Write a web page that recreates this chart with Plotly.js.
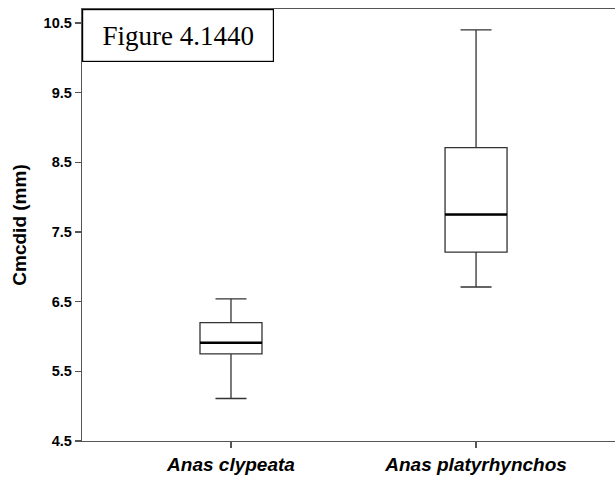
<!DOCTYPE html>
<html>
<head>
<meta charset="utf-8">
<script src="https://cdn.plot.ly/plotly-3.0.1.min.js"></script>
<style>html,body{margin:0;padding:0;background:#fff;}#chart{width:615px;height:478px;}</style>
</head>
<body>
<div id="chart"></div>
<script>
const categories = ["Anas clypeata", "Anas platyrhynchos"];
const positions = [0, 1];
const lowerWhisker = [5.11, 6.71];
const q1 = [5.75, 7.21];
const median = [5.91, 7.75];
const q3 = [6.20, 8.71];
const upperWhisker = [6.54, 10.40];
const yTicks = [4.5, 5.5, 6.5, 7.5, 8.5, 9.5, 10.5];
const boxWidth = 0.253;

const boxTrace = {
  type: 'box',
  x: positions,
  q1: q1, median: median, q3: q3,
  lowerfence: lowerWhisker, upperfence: upperWhisker,
  width: boxWidth,
  whiskerwidth: 0.5,
  fillcolor: '#ffffff',
  line: {color: '#333333', width: 1.3},
  boxpoints: false,
  hoverinfo: 'skip',
  showlegend: false
};

const mx = [], my = [];
positions.forEach((p, i) => {
  mx.push(p - boxWidth / 2, p + boxWidth / 2, null);
  my.push(median[i], median[i], null);
});
const medianTrace = {
  type: 'scatter', mode: 'lines', x: mx, y: my,
  line: {color: '#000000', width: 2.6},
  hoverinfo: 'skip', showlegend: false
};

const layout = {
  width: 615, height: 478,
  margin: {l: 82, r: 0, t: 9, b: 37},
  paper_bgcolor: '#ffffff', plot_bgcolor: '#ffffff',
  showlegend: false,
  xaxis: {
    range: [-0.608, 1.567],
    tickvals: positions, ticktext: categories,
    showgrid: false, zeroline: false,
    showline: true, mirror: true, linecolor: '#555555', linewidth: 1.3,
    ticks: 'outside', ticklen: 6, tickcolor: '#555555', tickwidth: 1.3,
    tickfont: {family: 'Liberation Sans, Arial, sans-serif', size: 19, color: '#000000', weight: 'bold', style: 'italic'}
  },
  yaxis: {
    range: [4.5, 10.7],
    tickvals: yTicks, ticktext: yTicks.map(v => v.toFixed(1)),
    showgrid: false, zeroline: false,
    showline: true, linecolor: '#555555', linewidth: 1.3,
    ticks: 'outside', ticklen: 6, tickcolor: '#555555', tickwidth: 1.3,
    tickfont: {family: 'Liberation Sans, Arial, sans-serif', size: 14.5, color: '#000000', weight: 'bold'},
    title: {text: 'Cmcdid (mm)', standoff: 12, font: {family: 'Liberation Sans, Arial, sans-serif', size: 19, color: '#000000', weight: 'bold'}}
  },
  annotations: [{
    xref: 'paper', yref: 'paper', x: 0, y: 1, xanchor: 'left', yanchor: 'top',
    text: 'Figure 4.1440', showarrow: false,
    font: {family: 'Liberation Serif, Times New Roman, serif', size: 27, color: '#000000'},
    bgcolor: '#ffffff', bordercolor: '#000000', borderwidth: 1.2, borderpad: 1,
    width: 188, height: 49
  }]
};

Plotly.newPlot('chart', [boxTrace, medianTrace], layout, {staticPlot: true, displayModeBar: false});
</script>
</body>
</html>
